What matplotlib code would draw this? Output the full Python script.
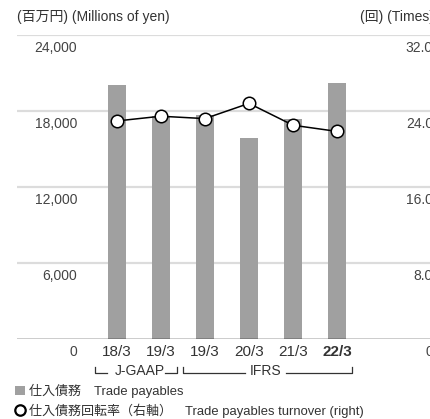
import matplotlib
matplotlib.use("Agg")
import matplotlib.pyplot as plt
from matplotlib.patches import Patch
from matplotlib.lines import Line2D
from matplotlib.transforms import blended_transform_factory, offset_copy

plt.rcParams['font.family'] = ['Liberation Sans', 'Noto Sans CJK JP', 'DejaVu Sans']

# ---------------------------------------
# Data
# ---------------------------------------
years = ["18/3", "19/3", "19/3", "20/3", "21/3", "22/3"]
payables = [20050, 17600, 17650, 15900, 17350, 20200]      # millions of yen
turnover = [22.95, 23.45, 23.2, 24.8, 22.5, 21.85]          # times
left_ticks = [0, 6000, 12000, 18000, 24000]
right_ticks = [0, 8, 16, 24, 32]
right_labels = ["0", "8.0", "16.0", "24.0", "32.0"]

W, H = 430, 419
fig = plt.figure(figsize=(W / 100, H / 100), dpi=100)

def px(x, y):
    # pixel (from top-left) -> figure fraction
    return x / W, 1 - y / H

# axes: 17px to 440px wide (runs past the right edge like the source), 35px..339px tall
ax_left, ax_right, ax_top, ax_bot = 17, 440, 35, 339
ax = fig.add_axes([ax_left / W, 1 - ax_bot / H, (ax_right - ax_left) / W, (ax_bot - ax_top) / H])
ax2 = ax.twinx()

x = list(range(len(years)))
unit = 44.1
x0 = (116.7 - ax_left) / unit
ax.set_xlim(-x0, (ax_right - ax_left) / unit - x0)
ax.set_ylim(0, 24000)
ax2.set_ylim(0, 32)

# grid lines
for t in left_ticks[1:]:
    ax.axhline(t, color="#dcdcdc", linewidth=1.6, zorder=0)
ax.axhline(0, color="black", linewidth=1.0, zorder=3)

# bars
ax.bar(x, payables, width=18 / unit, color="#a0a0a0", zorder=2)

# turnover line
ax2.plot(x, turnover, color="black", linewidth=1.1, marker="o", markersize=9,
         markerfacecolor="white", markeredgecolor="black", markeredgewidth=1.1, zorder=4)

for a in (ax, ax2):
    for s in a.spines.values():
        s.set_visible(False)
    a.set_yticks([])
    a.tick_params(length=0)

# y tick labels drawn just under their grid lines
tl = offset_copy(blended_transform_factory(fig.transFigure, ax.transData), fig=fig, y=-13 * 0.72, units="points")
for t in left_ticks:
    ax.text(77 / W, t, f"{t:,}", transform=tl, ha="right", va="center", fontsize=10, color="#444444")
tr = offset_copy(blended_transform_factory(fig.transFigure, ax2.transData), fig=fig, y=-13 * 0.72, units="points")
for t, lab in zip(right_ticks, right_labels):
    ax2.text(433 / W, t, lab, transform=tr, ha="right", va="center", fontsize=10, color="#444444")

# x tick labels
ax.set_xticks(x)
ax.set_xticklabels(years, fontsize=11, color="#333333")
ax.get_xticklabels()[-1].set_fontweight("bold")
ax.tick_params(axis="x", pad=4)

# accounting standard brackets
bt = blended_transform_factory(ax.transData, fig.transFigure)
yl = 1 - 372.5 / H
yt = 1 - 367 / H
def seg(xs, ys):
    fig.add_artist(Line2D(xs, ys, transform=bt, color="#333333", linewidth=0.9))
seg([-0.49, -0.49, -0.22], [yt, yl, yl])
seg([1.1, 1.37, 1.37], [yl, yl, yt])
fig.text(0.53, 1 - 371 / H, "J-GAAP", transform=bt, ha="center", va="center", fontsize=10, color="#333333")
seg([1.5, 1.5, 2.92], [yt, yl, yl])
seg([3.84, 5.34, 5.34], [yl, yl, yt])
fig.text(3.38, 1 - 371 / H, "IFRS", transform=bt, ha="center", va="center", fontsize=10, color="#333333")

# headers
fig.text(*px(17, 17), "(百万円) (Millions of yen)", ha="left", va="center", fontsize=10, color="#333333")
fig.text(*px(360, 17), "(回) (Times)", ha="left", va="center", fontsize=10, color="#333333")

# legend
handles = [Patch(facecolor="#a0a0a0", edgecolor="none"),
           Line2D([], [], linestyle="none", marker="o", markersize=7.5,
                  markerfacecolor="white", markeredgecolor="black", markeredgewidth=1.6)]
labels = ["仕入債務　Trade payables", "仕入債務回転率（右軸）　Trade payables turnover (right)"]
fig.legend(handles, labels, loc="upper left", bbox_to_anchor=px(15, 384), frameon=False,
           fontsize=9.4, handlelength=0.75, handleheight=0.75, handletextpad=0.35,
           labelspacing=0.4, borderpad=0, borderaxespad=0, labelcolor="#333333")

fig.savefig("out.png", dpi=100)
